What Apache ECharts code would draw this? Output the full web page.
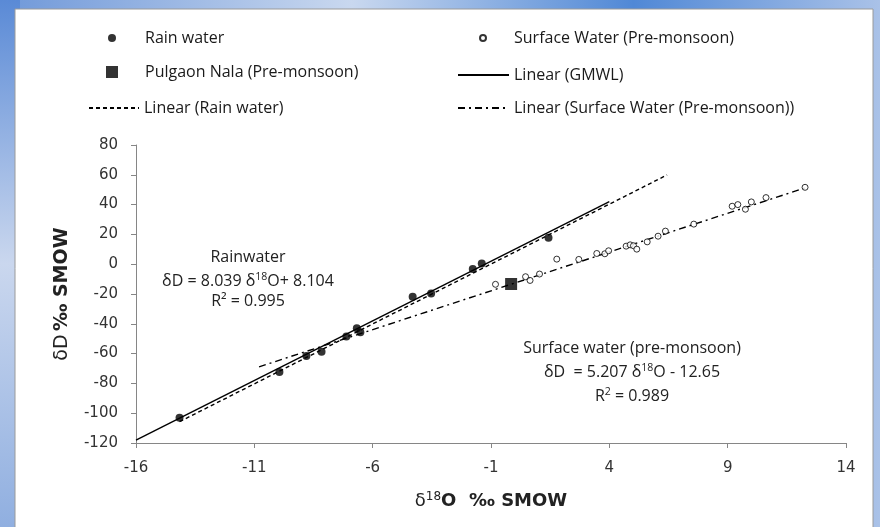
<!DOCTYPE html>
<html>
<head>
<meta charset="utf-8">
<script src="https://cdn.jsdelivr.net/npm/echarts@6/dist/echarts.min.js"></script>
<style>
  html, body { margin: 0; padding: 0; background: #ffffff; }
  #chart { width: 880px; height: 527px; }
</style>
</head>
<body>
<div id="chart"></div>
<script>
// ---- data ----
const rainX = [-14.16, -9.94, -8.80, -8.16, -7.11, -6.67, -6.52, -4.31, -3.53, -1.77, -1.39, 1.43];
const rainY = [-103.1, -72.3, -61.6, -58.7, -48.6, -43.0, -45.7, -21.8, -19.6, -3.3, 0.5, 17.7];

const surfX = [-0.81, 0.46, 0.65, 1.05, 1.78, 2.71, 3.47, 3.81, 3.97, 4.71, 4.88, 5.02, 5.16, 5.60, 6.06, 6.37, 7.57, 9.19, 9.43, 9.75, 10.00, 10.62, 12.27];
const surfY = [-13.5, -8.4, -10.9, -6.6, 3.4, 3.2, 7.2, 7.0, 9.0, 12.1, 13.0, 12.4, 10.1, 15.0, 18.8, 22.2, 26.9, 38.9, 40.0, 36.9, 41.8, 44.7, 51.6];

const nalaX = [-0.15];
const nalaY = [-13.3];

// trend lines (end points)
const gmwlX = [-16, 4];
const gmwlY = [-118, 42];
const rainFitX = [-14.16, 6.44];
const rainFitY = [-105.7, 59.9];
const surfFitX = [-10.8, 12.27];
const surfFitY = [-68.9, 51.2];

const xTicks = [-16, -11, -6, -1, 4, 9, 14];

const names = {
  rain: 'Rain water',
  surf: 'Surface Water (Pre-monsoon)',
  nala: 'Pulgaon Nala (Pre-monsoon)',
  gmwl: 'Linear (GMWL)',
  rainFit: 'Linear (Rain water)',
  surfFit: 'Linear (Surface Water (Pre-monsoon))'
};

const pairs = (xs, ys) => xs.map((x, i) => [x, ys[i]]);

const FONT = 'Open Sans';
function legend(name, left, top, w, h, padLeft, hideSymbol) {
  const l = {
    data: [name], left: left, top: top, padding: 0,
    itemWidth: w, itemHeight: h, selectedMode: false,
    textStyle: { fontFamily: FONT, fontSize: 16, color: '#1a1a1a', padding: [0, 0, 0, padLeft] }
  };
  if (hideSymbol) l.itemStyle = { opacity: 0, borderWidth: 0 };
  return l;
}

const txt = { fontFamily: FONT, fontSize: 16, fill: '#222' };
const sup = { fontFamily: FONT, fontSize: 10.5, fill: '#222', padding: [0, 0, 8, 0] };
function ann(text, x, y) {
  return { type: 'text', z: 5, x: x, y: y,
    style: { text: text, align: 'center', verticalAlign: 'middle', fill: '#222',
      fontFamily: FONT, fontSize: 16, rich: { n: txt, s: sup } } };
}

const chart = echarts.init(document.getElementById('chart'));
const option = {
  animation: false,
  backgroundColor: 'transparent',
  graphic: [
    { type: 'rect', z: -10, shape: { x: 0, y: 0, width: 880, height: 527 },
      style: { fill: { type: 'linear', x: 0, y: 0, x2: 1, y2: 0,
        colorStops: [ { offset: 0, color: '#6f98d9' }, { offset: 0.4, color: '#c9d8ef' },
                      { offset: 0.72, color: '#5088d6' }, { offset: 1, color: '#aac2e8' } ] } } },
    { type: 'rect', z: -9, shape: { x: 0, y: 0, width: 20, height: 527 },
      style: { fill: { type: 'linear', x: 0, y: 0, x2: 0, y2: 1,
        colorStops: [ { offset: 0, color: '#5a8ad6' }, { offset: 0.5, color: '#cad7ee' },
                      { offset: 1, color: '#90afe0' } ] } } },
    { type: 'rect', z: -8, shape: { x: 15, y: 9, width: 858, height: 530 },
      style: { fill: '#ffffff', stroke: '#9a9a9a', lineWidth: 1 } },
    ann('{n|Rainwater}', 248, 257),
    ann('{n|δD = 8.039 δ}{s|18}{n|O+ 8.104}', 248, 281),
    ann('{n|R² = 0.995}', 248, 301),
    ann('{n|Surface water (pre-monsoon)}', 632, 348),
    ann('{n|δD  = 5.207 δ}{s|18}{n|O - 12.65}', 632, 372),
    ann('{n|R}{s|2}{n| = 0.989}', 632, 396)
  ],
  legend: [
    legend(names.rain, 108, 30, 8, 8, 24, false),
    legend(names.surf, 479, 30, 6, 6, 23, false),
    legend(names.nala, 106, 64, 12, 12, 22, false),
    legend(names.gmwl, 457, 67, 51, 10, 0, true),
    legend(names.rainFit, 88, 100, 50, 10, 0, true),
    legend(names.surfFit, 457, 100, 51, 10, 0, true)
  ],
  grid: { left: 136, right: 34, top: 145, bottom: 84 },
  xAxis: {
    type: 'value', min: -16, max: 14,
    name: '{n|δ}{s|18}{b|O  ‰ SMOW}', nameLocation: 'middle', nameGap: 48,
    nameTextStyle: { rich: {
      n: { fontFamily: 'DejaVu Sans', fontSize: 18, color: '#222' },
      s: { fontFamily: 'DejaVu Sans', fontSize: 12, color: '#222', padding: [0, 0, 9, 0] },
      b: { fontFamily: 'DejaVu Sans', fontSize: 18, fontWeight: 'bold', color: '#222' } } },
    axisLine: { onZero: false, lineStyle: { color: '#868686', width: 1 } },
    axisTick: { customValues: xTicks, length: 5, lineStyle: { color: '#868686' } },
    axisLabel: { customValues: xTicks, margin: 18, fontFamily: 'DejaVu Sans', fontSize: 15, color: '#333' },
    splitLine: { show: false }
  },
  yAxis: {
    type: 'value', min: -120, max: 80, interval: 20,
    name: '{n|δD} {b|‰ SMOW}', nameLocation: 'middle', nameGap: 64,
    nameTextStyle: { rich: {
      n: { fontFamily: 'DejaVu Sans', fontSize: 19, color: '#222' },
      b: { fontFamily: 'DejaVu Sans', fontSize: 19, fontWeight: 'bold', color: '#222' } } },
    axisLine: { show: true, onZero: false, lineStyle: { color: '#868686', width: 1 } },
    axisTick: { show: true, length: 5, lineStyle: { color: '#868686' } },
    axisLabel: { margin: 18, fontFamily: 'DejaVu Sans', fontSize: 15, color: '#333' },
    splitLine: { show: false }
  },
  series: [
    { name: names.gmwl, type: 'line', data: pairs(gmwlX, gmwlY), showSymbol: false, symbol: 'none',
      lineStyle: { color: '#000', width: 1.4, type: 'solid' }, itemStyle: { color: '#000' }, z: 2 },
    { name: names.rainFit, type: 'line', data: pairs(rainFitX, rainFitY), showSymbol: false, symbol: 'none',
      lineStyle: { color: '#000', width: 1.4, type: [4, 3] }, itemStyle: { color: '#000' }, z: 2 },
    { name: names.surfFit, type: 'line', data: pairs(surfFitX, surfFitY), showSymbol: false, symbol: 'none',
      lineStyle: { color: '#000', width: 1.4, type: [7, 4, 2, 4] }, itemStyle: { color: '#000' }, z: 2 },
    { name: names.rain, type: 'scatter', data: pairs(rainX, rainY), symbol: 'circle', symbolSize: 8,
      itemStyle: { color: '#000' }, z: 4 },
    { name: names.surf, type: 'scatter', data: pairs(surfX, surfY), symbol: 'circle', symbolSize: 6,
      itemStyle: { color: '#fff', borderColor: '#000', borderWidth: 1 }, z: 4 },
    { name: names.nala, type: 'scatter', data: pairs(nalaX, nalaY), symbol: 'rect', symbolSize: 12,
      itemStyle: { color: '#000' }, z: 5 }
  ]
};
chart.setOption(option);
</script>
</body>
</html>
